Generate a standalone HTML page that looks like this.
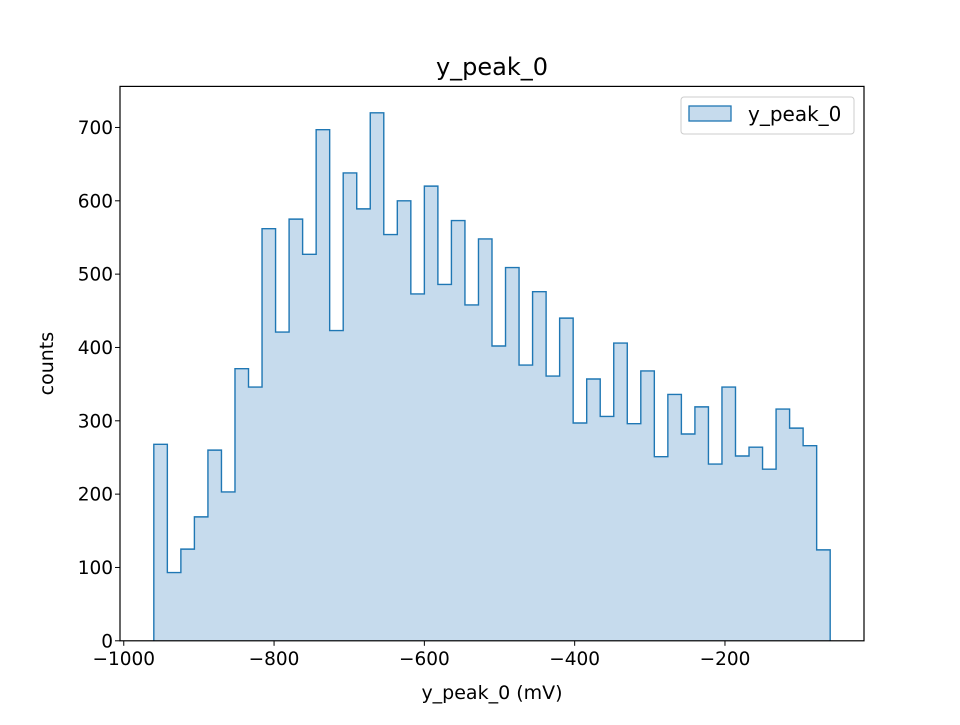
<!DOCTYPE html>
<html><head><meta charset="utf-8"><style>
body{margin:0;background:#fff;}
svg text{font-family:"DejaVu Sans","Liberation Sans",sans-serif;fill:#000;}
</style></head><body>
<svg id="chart" width="960" height="720" xmlns="http://www.w3.org/2000/svg">
<rect width="960" height="720" fill="#fff"/>
<text x="492" y="75" font-size="24" text-anchor="middle">y_peak_0</text>
<g id="bars"></g>
<g id="axes"></g>
<text x="492" y="699" font-size="19" text-anchor="middle">y_peak_0 (mV)</text>
<text transform="translate(53,363.6) rotate(-90)" font-size="19" text-anchor="middle">counts</text>
<g>
<rect x="681" y="97" width="173" height="37" rx="3" fill="#fff" stroke="#ccc" stroke-width="1"/>
<rect x="689" y="106" width="42" height="15" fill="#c6dbed" stroke="#1f77b4" stroke-width="1.3"/>
<text x="748" y="121" font-size="20">y_peak_0</text>
</g>
</svg>
<script>
const binStart = -960;
const binWidth = 18;
const counts = [268,93,125,169,260,203,371,346,562,421,575,527,697,423,638,589,720,554,600,473,620,486,573,458,548,402,509,376,476,361,440,297,357,306,406,296,368,251,336,282,319,241,346,252,264,234,316,290,266,124];
const xTicks = [-1000,-800,-600,-400,-200];
const yTicks = [0,100,200,300,400,500,600,700];
const L=120,R=864,T=86.4,B=640.8;
const xMin=-1005,xMax=-15,yMax=756;
const X=v=>L+(v-xMin)/(xMax-xMin)*(R-L);
const Y=v=>B-v/yMax*(B-T);
const NS="http://www.w3.org/2000/svg";
const bars=document.getElementById('bars');
let d=`M${X(binStart)},${Y(0)}`;
counts.forEach((c,i)=>{
  const x0=X(binStart+i*binWidth), x1=X(binStart+(i+1)*binWidth);
  d+=` L${x0},${Y(c)} L${x1},${Y(c)}`;
});
d+=` L${X(binStart+counts.length*binWidth)},${Y(0)} Z`;
const fill=document.createElementNS(NS,'path');
fill.setAttribute('d',d);fill.setAttribute('fill','#c6dbed');


bars.appendChild(fill);
let d2=`M${X(binStart)},${Y(0)}`;
counts.forEach((c,i)=>{
  d2+=` L${X(binStart+i*binWidth)},${Y(c)} L${X(binStart+(i+1)*binWidth)},${Y(c)}`;
});
d2+=` L${X(binStart+counts.length*binWidth)},${Y(0)}`;
const st=document.createElementNS(NS,'path');
st.setAttribute('d',d2);st.setAttribute('fill','none');st.setAttribute('stroke','#1f77b4');st.setAttribute('stroke-width','1.4');


bars.appendChild(st);
const ax=document.getElementById('axes');
const fr=document.createElementNS(NS,'rect');
fr.setAttribute('x',L);fr.setAttribute('y',T);fr.setAttribute('width',R-L);fr.setAttribute('height',B-T);
fr.setAttribute('fill','none');fr.setAttribute('stroke','#000');fr.setAttribute('stroke-width','1.2');


ax.appendChild(fr);
xTicks.forEach(v=>{
  const l=document.createElementNS(NS,'line');
  l.setAttribute('x1',X(v));l.setAttribute('x2',X(v));l.setAttribute('y1',B);l.setAttribute('y2',B+5);l.setAttribute('stroke','#000');
  
  
  ax.appendChild(l);
  const t=document.createElementNS(NS,'text');
  t.setAttribute('x',X(v));t.setAttribute('y',B+24);t.setAttribute('font-size','18.5');t.setAttribute('text-anchor','middle');
  t.textContent=(v<0?'\u2212':'')+Math.abs(v);
  
  
  ax.appendChild(t);
});
yTicks.forEach(v=>{
  const l=document.createElementNS(NS,'line');
  l.setAttribute('x1',L-5);l.setAttribute('x2',L);l.setAttribute('y1',Y(v));l.setAttribute('y2',Y(v));l.setAttribute('stroke','#000');
  
  
  ax.appendChild(l);
  const t=document.createElementNS(NS,'text');
  t.setAttribute('x',L-7);t.setAttribute('y',Y(v)+6.5);t.setAttribute('font-size','18.5');t.setAttribute('text-anchor','end');
  t.textContent=v;
  
  
  ax.appendChild(t);
});
</script>
</body></html>
